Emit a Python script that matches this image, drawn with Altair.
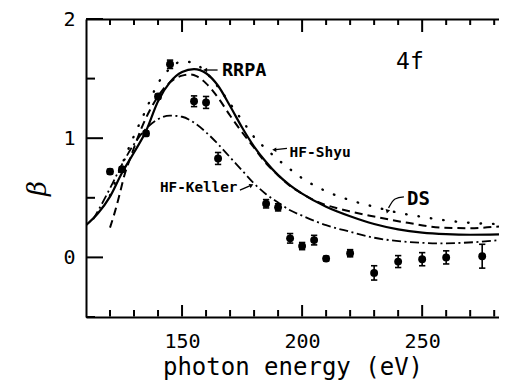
import altair as alt
import pandas as pd

# ---------------- data ----------------
# experimental points (photon energy in eV, beta, error)
exp_energy = [120, 125, 135, 140, 145, 155, 160, 165, 185, 190, 195, 200, 205, 210, 220, 230, 240, 250, 260, 275]
exp_beta = [0.72, 0.74, 1.04, 1.35, 1.62, 1.31, 1.30, 0.83, 0.45, 0.42, 0.16, 0.095, 0.145, -0.01, 0.035, -0.13, -0.035, -0.015, 0.0, 0.01]
exp_err = [0.02, 0.02, 0.02, 0.02, 0.035, 0.045, 0.05, 0.05, 0.035, 0.03, 0.04, 0.03, 0.04, 0.02, 0.03, 0.06, 0.05, 0.055, 0.055, 0.1]

# RRPA (solid)
rrpa_energy = [110, 115, 120, 125, 130, 135, 140, 145, 150, 155, 160, 165, 170, 175, 180, 185, 190, 195, 200, 210, 220, 230, 240, 250, 260, 270, 282]
rrpa_beta = [0.27, 0.37, 0.51, 0.71, 0.88, 1.06, 1.31, 1.47, 1.555, 1.58, 1.545, 1.44, 1.27, 1.09, 0.93, 0.80, 0.69, 0.605, 0.535, 0.425, 0.345, 0.28, 0.235, 0.208, 0.195, 0.19, 0.193]

# DS (dashed)
ds_energy = [120, 122, 124, 126, 128, 130, 133, 137, 141, 145, 150, 153, 156, 160, 165, 170, 175, 180, 185, 190, 195, 200, 206, 215, 220, 230, 244, 258, 270, 282]
ds_beta = [0.25, 0.38, 0.53, 0.69, 0.81, 0.92, 1.08, 1.25, 1.38, 1.47, 1.525, 1.535, 1.52, 1.46, 1.34, 1.19, 1.05, 0.92, 0.79, 0.69, 0.60, 0.535, 0.47, 0.41, 0.385, 0.343, 0.29, 0.25, 0.245, 0.26]

# HF-Shyu (dotted)
shyu_energy = [120, 125, 130, 135, 140, 145, 150, 155, 160, 165, 170, 175, 180, 185, 190, 195, 200, 210, 220, 230, 240, 250, 260, 270, 282]
shyu_beta = [0.52, 0.78, 1.02, 1.24, 1.46, 1.585, 1.645, 1.63, 1.55, 1.43, 1.29, 1.15, 1.01, 0.91, 0.82, 0.74, 0.665, 0.555, 0.48, 0.425, 0.375, 0.34, 0.31, 0.29, 0.28]

# HF-Keller (dash-dot)
keller_energy = [113, 115, 119, 122, 125, 130, 135, 140, 145, 150, 155, 160, 165, 170, 175, 180, 185, 190, 195, 200, 210, 220, 230, 244, 258, 272, 282]
keller_beta = [0.32, 0.39, 0.54, 0.66, 0.78, 0.95, 1.08, 1.16, 1.19, 1.18, 1.13, 1.05, 0.95, 0.84, 0.73, 0.62, 0.53, 0.46, 0.395, 0.35, 0.27, 0.215, 0.165, 0.13, 0.118, 0.128, 0.145]

# axis range, ticks and labels
x_range = [110, 282]
y_range = [-0.5, 2]
x_major_ticks = [150, 200, 250]
x_minor_ticks = [120, 130, 140, 160, 170, 180, 190, 210, 220, 230, 240, 260, 270, 280]
x_label_values = [150, 200, 250]
y_major_ticks = [0, 1, 2]
y_minor_ticks = [-0.5, 0.5, 1.5]
y_label_values = [0, 1, 2]

# annotations
ann_text = ["RRPA", "HF-Shyu", "HF-Keller", "DS"]
ann_energy = [166.6, 194.8, 140.8, 243.7]
ann_beta = [1.572, 0.880, 0.582, 0.494]
ann_size = [18.5, 14.5, 14.3, 19]

panel_text = ["4f"]
panel_energy = [244.9]
panel_beta = [1.639]

# arrows (tail -> head), annotation geometry
arrow_id = ["rrpa", "rrpa", "shyu", "shyu", "keller", "keller", "ds", "ds", "ds"]
arrow_order = [0, 1, 0, 1, 0, 1, 0, 1, 2]
arrow_energy = [164.8, 160.0, 193.7, 189.0, 174.1, 178.2, 242.4, 238.7, 236.0]
arrow_beta = [1.572, 1.572, 0.914, 0.904, 0.565, 0.600, 0.507, 0.490, 0.415]
head_energy = [159.6, 188.4, 178.9, 235.5]
head_beta = [1.572, 0.903, 0.606, 0.385]
head_shape = ["triangle-left", "triangle-left", "triangle-right", "triangle-down"]
head_angle = [0, 0, 335, 15]

# ---------------- chart ----------------
W, H = 413, 298
FONT = "DejaVu Sans Mono"
xs = alt.Scale(domain=x_range, nice=False, zero=False)
ys = alt.Scale(domain=y_range, nice=False, zero=False)
px_per_E = W / (x_range[1] - x_range[0])
px_per_beta = H / (y_range[1] - y_range[0])

exp_df = pd.DataFrame({"E": exp_energy, "beta": exp_beta, "err": exp_err})
exp_df["lo"] = exp_df["beta"] - exp_df["err"]
exp_df["hi"] = exp_df["beta"] + exp_df["err"]

ax_x_labels = alt.Axis(orient="bottom", values=x_label_values, ticks=False, tickSize=0,
                       labelPadding=14, labelFont=FONT, labelFontSize=20, labelColor="black",
                       labelFlush=False, domain=True, domainColor="black", domainWidth=2,
                       grid=False, title="photon energy (eV)", titleFont=FONT,
                       titleFontSize=24, titleFontWeight="normal", titleColor="black",
                       titleY=57, titleBaseline="alphabetic")
ax_x_top = alt.Axis(orient="top", values=x_label_values, ticks=False, labels=False,
                    domain=True, domainColor="black", domainWidth=2, grid=False, title=None)
ax_y_labels = alt.Axis(orient="left", values=y_label_values, ticks=False, tickSize=0,
                       labelPadding=11, labelFont=FONT, labelFontSize=20, labelColor="black",
                       labelFlush=False, domain=True, domainColor="black", domainWidth=2,
                       grid=False, title="β", titleFont="DejaVu Serif", titleFontStyle="italic",
                       titleFontWeight="normal", titleFontSize=26, titleColor="black",
                       titleAngle=270, titleX=-49, titleY=169, titleAlign="center",
                       titleBaseline="middle")


def curve(energy, beta, axis_x, axis_y, **style):
    df = pd.DataFrame({"E": energy, "beta": beta})
    return alt.Chart(df).mark_line(clip=True, color="black", interpolate="monotone", **style).encode(
        x=alt.X("E:Q", scale=xs, axis=axis_x),
        y=alt.Y("beta:Q", scale=ys, axis=axis_y),
    )


rrpa = curve(rrpa_energy, rrpa_beta, ax_x_top, None, strokeWidth=2.2)
ds = curve(ds_energy, ds_beta, None, None, strokeWidth=2, strokeDash=[8, 5])
shyu = curve(shyu_energy, shyu_beta, None, None, strokeWidth=2.4, strokeDash=[0.5, 12], strokeCap="round")
keller = curve(keller_energy, keller_beta, None, None, strokeWidth=1.8, strokeDash=[9, 3.5, 2, 3.5])

# inward frame ticks, drawn like the error bars (tick value + a span in data units)
vt_rows = []
for v in x_major_ticks + x_minor_ticks:
    major = v in x_major_ticks
    top_len = (13 if major else 6) / px_per_beta
    bot_len = (12 if major else 7) / px_per_beta
    vt_rows.append({"E": v, "lo": y_range[1] - top_len, "hi": y_range[1] - 0.004})
    vt_rows.append({"E": v, "lo": y_range[0] + 0.004, "hi": y_range[0] + bot_len})
vt_df = pd.DataFrame(vt_rows)
ht_rows = []
for v in y_major_ticks + y_minor_ticks:
    major = v in y_major_ticks
    left_len = (17 if major else 9) / px_per_E
    ht_rows.append({"beta": v, "left": x_range[0] + 0.02, "right": x_range[0] + left_len})
ht_df = pd.DataFrame(ht_rows)

vticks = alt.Chart(vt_df).mark_rule(color="black", strokeWidth=2, clip=False).encode(
    x=alt.X("E:Q", scale=xs, axis=None),
    y=alt.Y("lo:Q", scale=ys, axis=None),
    y2="hi:Q",
)
hticks = alt.Chart(ht_df).mark_rule(color="black", strokeWidth=2, clip=False).encode(
    y=alt.Y("beta:Q", scale=ys, axis=None),
    x=alt.X("left:Q", scale=xs, axis=None),
    x2="right:Q",
)

points = alt.Chart(exp_df).mark_circle(size=62, color="black", opacity=1).encode(
    x=alt.X("E:Q", scale=xs, axis=ax_x_labels),
    y=alt.Y("beta:Q", scale=ys, axis=ax_y_labels),
)
bars = alt.Chart(exp_df).mark_rule(color="black", strokeWidth=1.6).encode(
    x=alt.X("E:Q", scale=xs, axis=None),
    y=alt.Y("lo:Q", scale=ys, axis=None),
    y2="hi:Q",
)
cap_lo = alt.Chart(exp_df).mark_point(shape="M -1 0 L 1 0", size=40, filled=False,
                                      color="black", strokeWidth=1.6, opacity=1).encode(
    x=alt.X("E:Q", scale=xs, axis=None),
    y=alt.Y("lo:Q", scale=ys, axis=None),
)
cap_hi = alt.Chart(exp_df).mark_point(shape="M -1 0 L 1 0", size=40, filled=False,
                                      color="black", strokeWidth=1.6, opacity=1).encode(
    x=alt.X("E:Q", scale=xs, axis=None),
    y=alt.Y("hi:Q", scale=ys, axis=None),
)

ann_df = pd.DataFrame({"E": ann_energy, "beta": ann_beta, "text": ann_text, "fs": ann_size})
labels = alt.Chart(ann_df).mark_text(font=FONT, fontWeight="bold", align="left",
                                     baseline="middle", color="black").encode(
    x=alt.X("E:Q", scale=xs, axis=None),
    y=alt.Y("beta:Q", scale=ys, axis=None),
    text="text:N",
    size=alt.Size("fs:Q", scale=None, legend=None),
)
panel_df = pd.DataFrame({"E": panel_energy, "beta": panel_beta, "text": panel_text})
panel = alt.Chart(panel_df).mark_text(font=FONT, fontSize=23, align="center",
                                      baseline="middle", color="black").encode(
    x=alt.X("E:Q", scale=xs, axis=None),
    y=alt.Y("beta:Q", scale=ys, axis=None),
    text="text:N",
)

arrow_df = pd.DataFrame({"id": arrow_id, "o": arrow_order, "E": arrow_energy, "beta": arrow_beta})
arrows = alt.Chart(arrow_df).mark_line(color="black", strokeWidth=1.3, interpolate="monotone").encode(
    x=alt.X("E:Q", scale=xs, axis=None),
    y=alt.Y("beta:Q", scale=ys, axis=None),
    detail="id:N",
    order="o:Q",
)
head_df = pd.DataFrame({"E": head_energy, "beta": head_beta, "shape": head_shape, "angle": head_angle})
heads = alt.Chart(head_df).mark_point(filled=True, color="black", size=22, opacity=1).encode(
    x=alt.X("E:Q", scale=xs, axis=None),
    y=alt.Y("beta:Q", scale=ys, axis=None),
    shape=alt.Shape("shape:N", scale=None, legend=None),
    angle=alt.Angle("angle:Q", scale=None),
)

chart = alt.layer(
    points, rrpa, ds, shyu, keller, bars, vticks, hticks, cap_lo, cap_hi, labels, panel, arrows, heads
).resolve_axis(x="independent", y="independent").resolve_scale(x="shared", y="shared").properties(
    width=W, height=H,
    autosize=alt.AutoSizeParams(type="none"),
    padding={"left": 78, "top": 11, "right": 0, "bottom": 64},
    background="white",
).configure_view(stroke="transparent")

chart.save("out.html", embed_options={"renderer": "svg", "actions": False})
